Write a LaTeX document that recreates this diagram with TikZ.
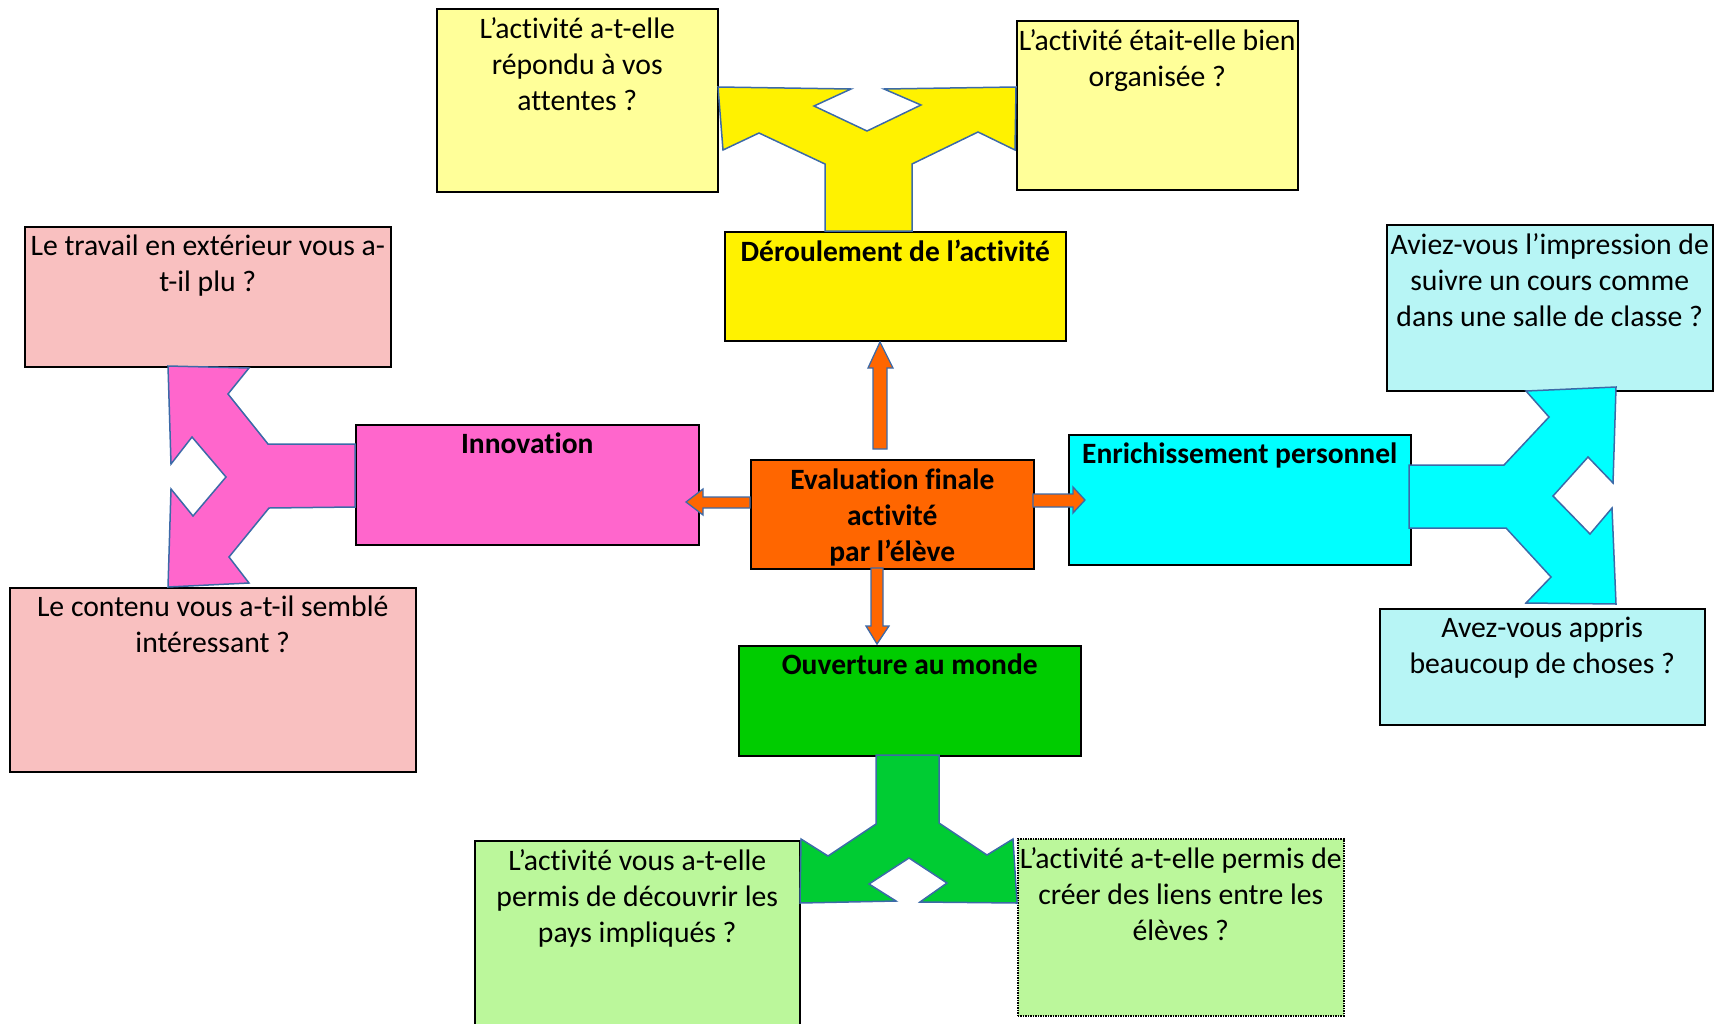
\documentclass[tikz,border=0pt]{standalone}
\usepackage{fontspec}
\setmainfont{Carlito}[Ligatures=NoCommon]
\definecolor{lyellow}{HTML}{FFFF99}
\definecolor{pinkq}{HTML}{F9C0C0}
\definecolor{magentab}{HTML}{FF66CC}
\definecolor{orangeb}{HTML}{FF6600}
\definecolor{cyanb}{HTML}{00FFFF}
\definecolor{lcyan}{HTML}{B7F5F5}
\definecolor{greenb}{HTML}{00CC00}
\definecolor{greenfork}{HTML}{00CC33}
\definecolor{lgreen}{HTML}{BBF79B}
\definecolor{outl}{HTML}{3C6AA8}
\begin{document}
\begin{tikzpicture}[x=1pt,y=-1pt,
  box/.style={draw=black, line width=1.5pt, anchor=north west, inner sep=0pt},
  qtext/.style={font=\fontsize{29.7}{36}\selectfont, align=center, anchor=north, inner sep=0pt},
  htext/.style={font=\bfseries\fontsize{29.5}{36}\selectfont, align=center, anchor=north, inner sep=0pt},
  fork/.style={draw=outl, line width=1.5pt, line join=miter},
  blockarrow/.style={draw=outl, line width=1.3pt, fill=orangeb, line join=miter}]
\useasboundingbox (0,0) rectangle (1715,1023);
\clip (0,0) rectangle (1715,1023);

% boxes
\node[box, fill=lyellow, minimum width=281pt, minimum height=183pt] (qTL) at (436,8) {};
\node[box, fill=lyellow, minimum width=281pt, minimum height=169pt] (qTR) at (1016,20) {};
\node[box, fill=yellow, minimum width=341pt, minimum height=109pt] (der) at (724,231) {};
\node[box, fill=pinkq, minimum width=366pt, minimum height=140pt] (qLT) at (24,226) {};
\node[box, fill=magentab, minimum width=343pt, minimum height=120pt] (inno) at (355,424) {};
\node[box, fill=pinkq, minimum width=406pt, minimum height=184pt] (qLB) at (9,587) {};
\node[box, fill=orangeb, minimum width=283pt, minimum height=109pt] (eval) at (750,459) {};
\node[box, fill=cyanb, minimum width=342pt, minimum height=130pt] (enr) at (1068,434) {};
\node[box, fill=lcyan, minimum width=326pt, minimum height=166pt] (qRT) at (1386,224) {};
\node[box, fill=lcyan, minimum width=325pt, minimum height=116pt] (qRB) at (1379,608) {};
\node[box, fill=greenb, minimum width=342pt, minimum height=110pt] (ouv) at (738,645) {};
\node[box, fill=lgreen, minimum width=325pt, minimum height=200pt] (qBL) at (474,840) {};
\node[box, fill=lgreen, densely dotted, minimum width=326pt, minimum height=177pt] (qBR) at (1017,838) {};

% forks
\draw[fork, fill=yellow] (825,231) -- (825,164) -- (759,133) -- (723,150) -- (718,87) -- (851,89) -- (814,106) -- (867,131) -- (921,105) -- (884,89) -- (1016,87) -- (1015,150) -- (978,132) -- (912,164) -- (912,231) -- cycle;
\draw[fork, fill=magentab] (355,444) -- (268,444) -- (228,394) -- (249,368) -- (168,366) -- (171,464) -- (192,437) -- (226,477) -- (193,516) -- (171,489) -- (168,587) -- (249,583) -- (229,557) -- (269,508) -- (355,507) -- cycle;
\draw[fork, fill=cyanb] (1409,465) -- (1504,465) -- (1549,417) -- (1526,391) -- (1616,387) -- (1613,483) -- (1588,457) -- (1553,496) -- (1590,534) -- (1612,508) -- (1616,604) -- (1526,603) -- (1551,577) -- (1506,528) -- (1409,528) -- cycle;
\draw[fork, fill=greenfork] (876,755) -- (876,824) -- (828,856) -- (801,839) -- (800,903) -- (896,901) -- (869,884) -- (909,858) -- (947,883) -- (920,902) -- (1017,903) -- (1013,839) -- (987,855) -- (939,823) -- (939,755) -- cycle;

% orange block arrows
\draw[blockarrow] (873,449) -- (873,368) -- (868,368) -- (880,342) -- (893,368) -- (887,368) -- (887,449) -- cycle;
\draw[blockarrow] (750,497) -- (703,497) -- (703,489) -- (686,502) -- (703,515) -- (703,508) -- (750,508) -- cycle;
\draw[blockarrow] (1033,494) -- (1073,494) -- (1073,487) -- (1085,500) -- (1073,513) -- (1073,507) -- (1033,507) -- cycle;
\draw[blockarrow] (871,568) -- (871,626) -- (866,626) -- (877,644) -- (889,626) -- (883,626) -- (883,568) -- cycle;

% texts
\node[qtext] (tTL) at ([yshift=-9pt]qTL.north) {L’activité a-t-elle\\répondu à vos\\attentes ?};
\node[qtext] (tTR) at ([yshift=-9pt]qTR.north) {L’activité était-elle bien\\organisée ?};
\node[htext] (tder) at ([yshift=-9pt]der.north) {Déroulement de l’activité};
\node[qtext] (tLT) at ([yshift=-9pt]qLT.north) {Le travail en extérieur vous a-\\t-il plu ?};
\node[htext] (tinno) at ([yshift=-9pt]inno.north) {Innovation};
\node[qtext] (tLB) at ([yshift=-9pt]qLB.north) {Le contenu vous a-t-il semblé\\intéressant ?};
\node[htext, anchor=center] (teval) at ([yshift=-3pt]eval.center) {Evaluation finale\\activité\\par l’élève};
\node[htext] (tenr) at ([yshift=-9pt]enr.north) {Enrichissement personnel};
\node[qtext] (tRT) at ([yshift=-9pt]qRT.north) {Aviez-vous l’impression de\\suivre un cours comme\\dans une salle de classe ?};
\node[qtext] (tRB) at ([yshift=-9pt]qRB.north) {Avez-vous appris\\beaucoup de choses ?};
\node[htext] (touv) at ([yshift=-9pt]ouv.north) {Ouverture au monde};
\node[qtext] (tBL) at ([yshift=-9pt]qBL.north) {L’activité vous a-t-elle\\permis de découvrir les\\pays impliqués ?};
\node[qtext] (tBR) at ([yshift=-9pt]qBR.north) {L’activité a-t-elle permis de\\créer des liens entre les\\élèves ?};
\end{tikzpicture}
\end{document}
